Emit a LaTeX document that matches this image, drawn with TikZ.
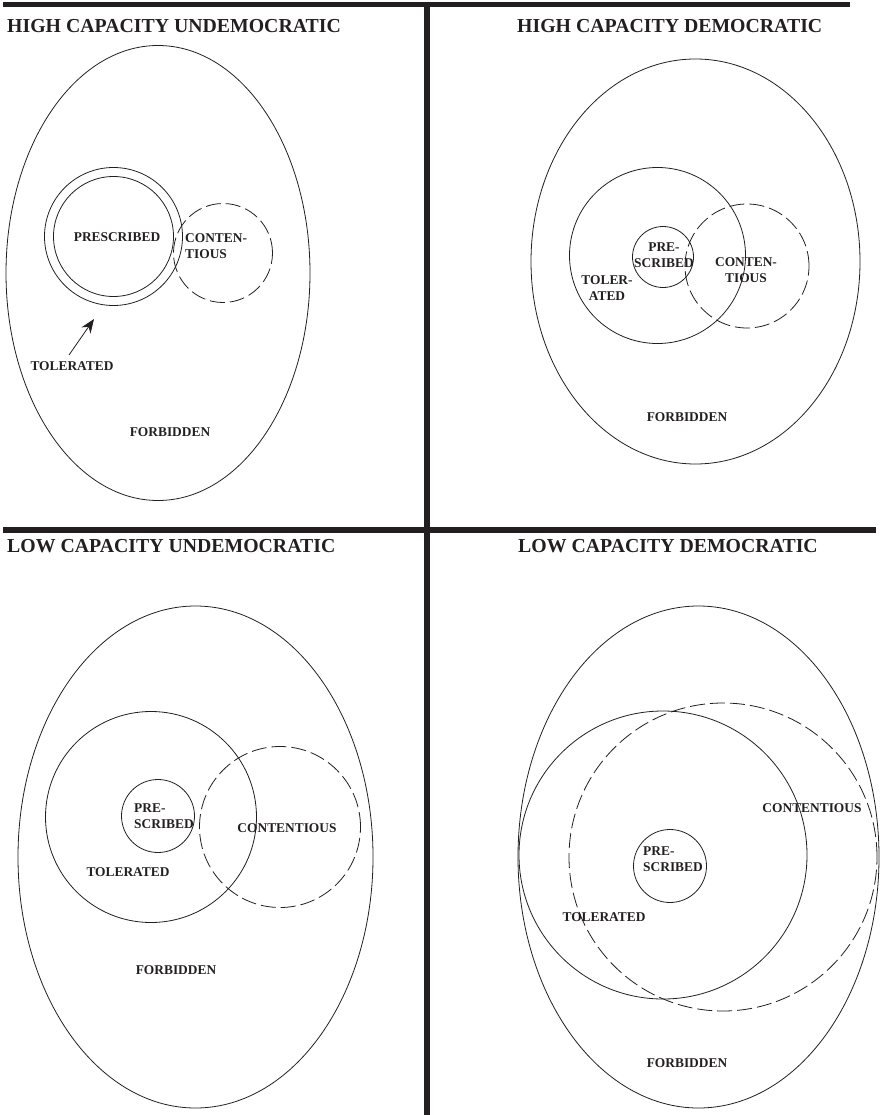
\documentclass[tikz,border=0pt]{standalone}
\usepackage{fontspec}
\setmainfont{Liberation Serif}
\usetikzlibrary{shapes.geometric,arrows.meta}
\definecolor{ink}{HTML}{231F20}
\begin{document}
\begin{tikzpicture}[x=1pt,y=-1pt,
  rule/.style={line width=5.5pt,draw=ink},
  thin/.style={line width=0.8pt,draw=ink},
  region/.style={circle,thin,inner sep=0pt},
  zone/.style={ellipse,thin,inner sep=0pt},
  contest/.style={circle,thin,inner sep=0pt,dash pattern=on 15pt off 5pt},
  title/.style={anchor=base west,inner sep=0pt,text=ink,font=\fontsize{19.8}{22}\selectfont\bfseries},
  lab/.style={inner sep=0pt,text=ink,font=\fontsize{13.4}{15.5}\selectfont\bfseries}]
\useasboundingbox (0,0) rectangle (879,1115);

% frame rules
\coordinate (tl) at (3,4.5);
\coordinate (tr) at (850,4.5);
\coordinate (ml) at (3,530);
\coordinate (mr) at (876,530);
\coordinate (vt) at (427,2);
\coordinate (vb) at (427,1115);
\draw[rule] (tl) -- (tr);
\draw[rule] (ml) -- (mr);
\draw[rule] (vt) -- (vb);

% panel titles
\node[title] (t1) at (7,33) {HIGH CAPACITY UNDEMOCRATIC};
\node[title] (t2) at (517,33) {HIGH CAPACITY DEMOCRATIC};
\node[title] (t3) at (7,552) {LOW CAPACITY UNDEMOCRATIC};
\node[title] (t4) at (518,552) {LOW CAPACITY DEMOCRATIC};

% high capacity, undemocratic
\node[zone,minimum width=304pt,minimum height=455pt] (f1) at (158,273) {};
\node[region,minimum size=138pt] (tol1) at (113.5,236.5) {};
\node[region,minimum size=120pt] (pre1) at (113.5,236.5) {};
\node[contest,minimum size=99pt] (con1) at (223,253) {};
\node[lab] (pl1) at (117,237) {PRESCRIBED};
\node[lab,align=left,anchor=west] (cl1) at (185,246) {CONTEN-\\TIOUS};
\node[lab] (tl1) at (72,366) {TOLERATED};
\node[lab] (fl1) at (170,432) {FORBIDDEN};
\coordinate (arrTail) at (69,355);
\coordinate (arrTip) at (94,319);
\draw[thin,-{Stealth[length=14pt,width=11pt]}] (arrTail) -- (arrTip);

% high capacity, democratic
\node[zone,minimum width=329pt,minimum height=405pt] (f2) at (695.5,261.5) {};
\node[region,minimum size=176pt] (tol2) at (657.5,255.5) {};
\node[region,minimum size=61pt] (pre2) at (663,257) {};
\node[contest,minimum size=124pt] (con2) at (747,266) {};
\node[lab,align=center] (pl2) at (664,255) {PRE-\\SCRIBED};
\node[lab,align=center] (tl2) at (607,288) {TOLER-\\ATED};
\node[lab,align=center] (cl2) at (746,270) {CONTEN-\\TIOUS};
\node[lab] (fl2) at (687,417) {FORBIDDEN};

% low capacity, undemocratic
\node[zone,minimum width=355pt,minimum height=502pt] (f3) at (195.5,857) {};
\node[region,minimum size=211pt] (tol3) at (151,817) {};
\node[region,minimum size=73pt] (pre3) at (158,816) {};
\node[contest,minimum size=161pt] (con3) at (280,827) {};
\node[lab,align=left,anchor=west] (pl3) at (134,816) {PRE-\\SCRIBED};
\node[lab] (cl3) at (287,828) {CONTENTIOUS};
\node[lab] (tl3) at (128,872) {TOLERATED};
\node[lab] (fl3) at (176,970) {FORBIDDEN};

% low capacity, democratic
\node[zone,minimum width=361pt,minimum height=502pt] (f4) at (698.5,857) {};
\node[region,minimum size=288pt] (tol4) at (663,855) {};
\node[region,minimum size=73pt] (pre4) at (670,866) {};
\node[contest,minimum size=308pt] (con4) at (723,857) {};
\node[lab,align=left,anchor=west] (pl4) at (643,859) {PRE-\\SCRIBED};
\node[lab] (cl4) at (812,808) {CONTENTIOUS};
\node[lab] (tl4) at (604,917) {TOLERATED};
\node[lab] (fl4) at (687,1063) {FORBIDDEN};
\end{tikzpicture}
\end{document}
